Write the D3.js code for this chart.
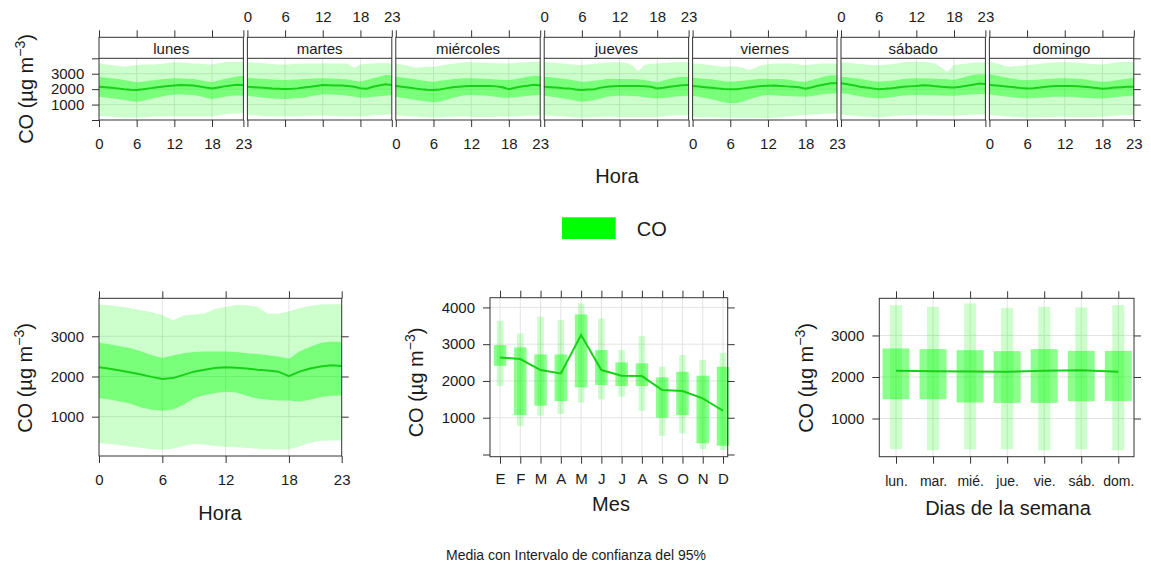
<!DOCTYPE html>
<html>
<head>
<meta charset="utf-8">
<script src="https://cdn.jsdelivr.net/npm/d3@7/dist/d3.min.js"></script>
<style>
body { margin: 0; background: #fff; }
svg { display: block; }
text { font-family: "Liberation Sans", Arial, Helvetica, sans-serif; fill: #1a1a1a; }
</style>
</head>
<body>
<svg id="chart" width="1151" height="564"></svg>
<script>
// ---- datos ----
var horas = [0,1,2,3,4,5,6,7,8,9,10,11,12,13,14,15,16,17,18,19,20,21,22,23]
var horasTicks = [0, 6, 12, 18, 23]
var dias = ["lunes", "martes", "miércoles", "jueves", "viernes", "sábado", "domingo"]
var diasCortos = ["lun.", "mar.", "mié.", "jue.", "vie.", "sáb.", "dom."]
var meses = ["E", "F", "M", "A", "M", "J", "J", "A", "S", "O", "N", "D"]

// hora x dia de la semana (panel superior)
var mediaDiaHora = [
  [2160,2130,2090,2050,2000,1960,1940,1990,2050,2110,2160,2200,2240,2270,2260,2230,2170,2100,2040,2110,2180,2240,2280,2270],
  [2160,2130,2100,2080,2050,2030,2010,2020,2050,2110,2150,2210,2270,2260,2240,2230,2200,2150,2060,2030,2150,2240,2310,2270],
  [2200,2150,2100,2050,2000,1960,1940,1980,2050,2120,2160,2190,2200,2200,2200,2200,2180,2120,2000,2090,2170,2220,2290,2240],
  [2160,2130,2100,2060,2050,1980,1940,1970,2000,2100,2160,2190,2200,2200,2200,2200,2190,2160,2050,2090,2160,2200,2250,2270],
  [2200,2170,2130,2090,2050,2010,1990,2000,2050,2110,2160,2200,2220,2230,2210,2180,2160,2120,2030,2120,2220,2300,2380,2380],
  [2380,2320,2250,2160,2100,2050,1990,2020,2060,2110,2150,2180,2200,2260,2230,2190,2150,2130,2110,2160,2220,2290,2360,2340],
  [2270,2240,2200,2160,2120,2080,2050,2060,2100,2160,2190,2200,2200,2200,2190,2160,2130,2080,2030,2060,2100,2130,2150,2160]
]
var icSupDiaHora = [
  [2810,2760,2710,2660,2590,2510,2440,2480,2540,2590,2640,2680,2700,2690,2680,2660,2590,2510,2440,2560,2660,2740,2820,2870],
  [2740,2710,2680,2650,2620,2600,2590,2610,2630,2660,2680,2690,2700,2690,2680,2660,2620,2540,2490,2590,2700,2800,2920,2880],
  [2810,2760,2700,2640,2580,2520,2480,2540,2600,2640,2680,2700,2700,2690,2680,2660,2630,2600,2590,2640,2720,2810,2870,2850],
  [2810,2770,2730,2680,2620,2540,2480,2500,2540,2600,2650,2680,2660,2650,2650,2640,2600,2520,2440,2560,2650,2760,2810,2800],
  [2740,2710,2680,2640,2580,2520,2480,2510,2550,2600,2640,2670,2660,2660,2650,2630,2560,2500,2480,2590,2700,2820,2900,2900],
  [2810,2770,2730,2680,2600,2520,2480,2510,2550,2600,2650,2690,2700,2700,2690,2670,2650,2640,2600,2700,2820,2920,2960,2930],
  [2960,2880,2800,2720,2650,2600,2590,2600,2620,2650,2680,2700,2700,2690,2670,2640,2580,2520,2480,2500,2560,2620,2680,2740]
]
var icInfDiaHora = [
  [1510,1460,1410,1360,1290,1230,1190,1250,1350,1450,1530,1600,1660,1650,1640,1620,1550,1450,1360,1430,1510,1580,1590,1580],
  [1580,1530,1480,1430,1400,1380,1360,1380,1420,1450,1540,1610,1660,1650,1640,1620,1570,1500,1450,1460,1500,1540,1580,1620],
  [1510,1450,1380,1320,1250,1200,1150,1200,1300,1420,1530,1600,1620,1610,1590,1560,1500,1450,1450,1480,1520,1570,1600,1620],
  [1580,1520,1460,1400,1330,1250,1190,1230,1300,1400,1500,1560,1580,1570,1560,1540,1480,1430,1400,1430,1480,1530,1560,1580],
  [1580,1510,1430,1340,1250,1150,1080,1100,1200,1340,1480,1580,1620,1600,1580,1560,1540,1520,1510,1560,1620,1680,1720,1730],
  [1730,1680,1620,1540,1470,1420,1400,1420,1470,1540,1590,1610,1620,1620,1610,1600,1590,1580,1580,1600,1630,1660,1680,1700],
  [1660,1610,1560,1510,1460,1420,1400,1420,1450,1480,1500,1510,1510,1500,1480,1450,1420,1400,1400,1420,1480,1520,1560,1580]
]
var extSupDiaHora = [
  [3670,3610,3560,3500,3460,3510,3560,3590,3600,3600,3640,3700,3740,3720,3690,3670,3650,3620,3600,3680,3740,3760,3770,3780],
  [3740,3720,3690,3660,3630,3600,3600,3620,3640,3660,3670,3670,3670,3670,3670,3670,3670,3390,3600,3640,3670,3690,3680,3670],
  [3670,3600,3500,3400,3420,3450,3460,3520,3580,3640,3700,3740,3740,3720,3700,3690,3680,3670,3670,3690,3720,3740,3760,3740],
  [3740,3720,3700,3670,3620,3590,3560,3600,3640,3680,3710,3740,3740,3700,3560,3170,3560,3640,3670,3700,3720,3740,3740,3740],
  [3670,3640,3600,3560,3500,3460,3480,3470,3380,3240,3380,3560,3620,3660,3670,3670,3640,3600,3560,3600,3640,3660,3670,3670],
  [3740,3710,3670,3630,3590,3570,3560,3580,3620,3680,3740,3780,3780,3760,3720,3670,3390,3130,3560,3620,3670,3710,3730,3740],
  [3780,3700,3570,3460,3480,3520,3560,3600,3640,3680,3720,3740,3740,3720,3700,3680,3640,3620,3600,3650,3720,3760,3760,3760]
]
var extInfDiaHora = [
  [260,240,210,190,170,160,150,170,200,220,230,220,220,220,220,220,220,220,220,290,370,400,420,430],
  [320,300,270,250,240,230,220,230,250,260,270,280,290,280,260,240,230,220,220,250,290,320,340,370],
  [290,270,250,220,200,180,150,170,200,210,220,220,210,200,190,200,210,220,210,230,250,270,280,290],
  [290,270,250,220,200,170,150,160,180,200,210,210,200,200,200,200,200,200,200,230,270,300,310,320],
  [220,200,180,170,160,150,150,150,150,140,130,130,130,150,180,220,260,300,320,340,370,400,420,430],
  [320,300,270,240,210,190,170,200,240,270,300,320,320,310,300,290,290,290,280,300,320,340,360,370],
  [320,290,260,230,200,180,150,160,180,190,200,210,210,200,200,200,200,200,210,240,280,310,320,330]
]

// por hora (abajo izquierda)
var horaMedia  = [2230,2190,2150,2100,2050,1990,1940,1960,2040,2120,2170,2210,2230,2220,2200,2170,2150,2120,2010,2120,2200,2250,2280,2260]
var horaIcSup  = [2840,2800,2750,2700,2620,2530,2460,2520,2580,2610,2620,2620,2620,2610,2580,2560,2530,2500,2440,2620,2740,2830,2870,2860]
var horaIcInf  = [1460,1430,1380,1320,1230,1170,1150,1180,1300,1460,1540,1590,1620,1600,1520,1450,1420,1400,1400,1380,1420,1490,1520,1530]
var horaExtSup = [3790,3770,3740,3700,3650,3600,3530,3400,3520,3540,3570,3680,3730,3780,3770,3740,3560,3560,3620,3700,3760,3790,3800,3800]
var horaExtInf = [340,320,290,260,220,190,175,200,270,320,300,270,250,240,220,200,190,185,190,260,350,400,410,410]

// por mes (abajo centro)
var mesMedia  = [2640,2595,2296,2205,3247,2296,2142,2133,1753,1726,1527,1190]
var mesIcSup  = [2975,2913,2722,2722,3809,2840,2505,2478,2097,2250,2142,2386]
var mesIcInf  = [2414,1073,1327,1453,1825,1889,1861,1861,1000,1073,304,239]
var mesExtSup = [3636,3293,3745,3655,4108,3700,2840,3220,2386,2704,2568,2766]
var mesExtInf = [1861,774,1055,1101,1409,1499,1571,1182,511,576,149,122]

// por dia de la semana (abajo derecha)
var diaMedia  = [2150,2140,2135,2125,2150,2160,2123]
var diaIcSup  = [2687,2670,2646,2622,2670,2629,2629]
var diaIcInf  = [1465,1465,1385,1377,1377,1417,1424]
var diaExtSup = [3730,3690,3771,3665,3690,3675,3730]
var diaExtInf = [260,236,260,260,236,260,236]

// ---- estilo ----
var verde = "#00ff00", linea = "#17d017", borde = "#333333", rejilla = "#e3e3e3"
var entero = d3.format("d")
var svg = d3.select("#chart")

function estiloEje(g, size) {
    g.attr("font-family", "'Liberation Sans', Arial, sans-serif").attr("font-size", size || 15)
    g.select(".domain").remove()
    g.selectAll(".tick line").attr("stroke", borde)
    g.selectAll(".tick text").attr("fill", "#1a1a1a")
}

function tituloY(x, y) {
    var t = svg.append("text")
        .attr("transform", "translate(" + x + "," + y + ") rotate(-90)")
        .attr("text-anchor", "middle")
        .attr("font-size", 20)
    t.append("tspan").text("CO (µg m")
    t.append("tspan").attr("dy", -8).attr("font-size", 14).text("−3")
    t.append("tspan").attr("dy", 8).text(")")
}

function bandas(g, x, y, lo2, hi2, lo1, hi1, media) {
    var area = d3.area()
        .x(function(d) { return x(d[0]) })
        .y0(function(d) { return y(d[1]) })
        .y1(function(d) { return y(d[2]) })
    g.append("path").datum(d3.zip(horas, lo2, hi2)).attr("d", area)
        .attr("fill", verde).attr("fill-opacity", 0.2)
    g.append("path").datum(d3.zip(horas, lo1, hi1)).attr("d", area)
        .attr("fill", verde).attr("fill-opacity", 0.4)
    g.append("path").datum(d3.zip(horas, media))
        .attr("d", d3.line().x(function(d) { return x(d[0]) }).y(function(d) { return y(d[1]) }))
        .attr("fill", "none").attr("stroke", linea).attr("stroke-width", 2)
}

function rejillaH(g, y, vals, x0, x1) {
    g.selectAll(null).data(vals).enter().append("line")
        .attr("x1", x0).attr("x2", x1)
        .attr("y1", function(d) { return y(d) }).attr("y2", function(d) { return y(d) })
        .attr("stroke", rejilla)
}
function rejillaV(g, x, vals, y0, y1) {
    g.selectAll(null).data(vals).enter().append("line")
        .attr("y1", y0).attr("y2", y1)
        .attr("x1", function(d) { return x(d) }).attr("x2", function(d) { return x(d) })
        .attr("stroke", rejilla)
}

// ---- panel superior: hora por dia ----
var stripTop = 37.3, stripBot = 58.3, panelBot = 120
var left0 = 99, pw = 144.4, gap = 4
var yT = d3.scaleLinear().domain([0, 4000]).range([panelBot, stripBot])

dias.forEach(function(dia, i) {
    var x0 = left0 + i * (pw + gap)
    var x = d3.scaleLinear().domain([0, 23]).range([x0, x0 + pw])
    var g = svg.append("g")

    rejillaH(g, yT, [1000, 2000, 3000], x0, x0 + pw)
    rejillaV(g, x, [6, 12, 18], stripBot, panelBot)
    bandas(g, x, yT, extInfDiaHora[i], extSupDiaHora[i], icInfDiaHora[i], icSupDiaHora[i], mediaDiaHora[i])

    g.append("rect").attr("x", x0).attr("y", stripTop).attr("width", pw).attr("height", panelBot - stripTop)
        .attr("fill", "none").attr("stroke", borde)
    g.append("line").attr("x1", x0).attr("x2", x0 + pw).attr("y1", stripBot).attr("y2", stripBot).attr("stroke", borde)
    g.append("text").attr("x", x0 + pw / 2).attr("y", 54).attr("text-anchor", "middle")
        .attr("font-size", 15).text(dia)

    var conTop = (i % 2 == 1)
    g.append("g").attr("transform", "translate(0," + stripTop + ")")
        .call(d3.axisTop(x).tickValues(horasTicks).tickSize(7).tickPadding(8.6)
            .tickFormat(conTop ? entero : ""))
        .call(estiloEje)
    g.append("g").attr("transform", "translate(0," + panelBot + ")")
        .call(d3.axisBottom(x).tickValues(horasTicks).tickSize(7).tickPadding(11)
            .tickFormat(conTop ? "" : entero))
        .call(estiloEje)
    if (i == 0) {
        g.append("g").attr("transform", "translate(" + x0 + ",0)")
            .call(d3.axisLeft(yT).tickValues([0, 1000, 2000, 3000, 4000]).tickSize(7).tickPadding(7.7)
                .tickFormat(function(d) { return (d == 0 || d == 4000) ? "" : entero(d) }))
            .call(estiloEje)
    }
    if (i == dias.length - 1) {
        g.append("g").attr("transform", "translate(" + (x0 + pw) + ",0)")
            .call(d3.axisRight(yT).tickValues([0, 1000, 2000, 3000, 4000]).tickSize(7).tickFormat(""))
            .call(estiloEje)
    }
})
tituloY(33, 89)
svg.append("text").attr("x", 617).attr("y", 183).attr("text-anchor", "middle").attr("font-size", 20).text("Hora")

// ---- leyenda ----
svg.append("rect").attr("x", 562).attr("y", 217.3).attr("width", 53.7).attr("height", 21.7).attr("fill", verde)
svg.append("text").attr("x", 636.7).attr("y", 236).attr("font-size", 20).text("CO")

// ---- abajo izquierda: hora ----
;(function() {
    var x = d3.scaleLinear().domain([0, 23]).range([99, 341.7])
    var y = d3.scaleLinear().domain([22, 3945]).range([456, 298.3])
    var g = svg.append("g")
    rejillaH(g, y, [1000, 2000, 3000], 99, 341.7)
    rejillaV(g, x, [6, 12, 18], 298.3, 456)
    bandas(g, x, y, horaExtInf, horaExtSup, horaIcInf, horaIcSup, horaMedia)
    g.append("rect").attr("x", 99).attr("y", 298.3).attr("width", 242.7).attr("height", 157.7)
        .attr("fill", "none").attr("stroke", borde)
    g.append("g").attr("transform", "translate(0,456)")
        .call(d3.axisBottom(x).tickValues(horasTicks).tickSize(7).tickPadding(11).tickFormat(entero)).call(estiloEje)
    g.append("g").attr("transform", "translate(0,298.3)")
        .call(d3.axisTop(x).tickValues(horasTicks).tickSize(7).tickFormat("")).call(estiloEje)
    g.append("g").attr("transform", "translate(99,0)")
        .call(d3.axisLeft(y).tickValues([1000, 2000, 3000]).tickSize(7).tickPadding(8).tickFormat(entero)).call(estiloEje)
    g.append("g").attr("transform", "translate(341.7,0)")
        .call(d3.axisRight(y).tickValues([1000, 2000, 3000]).tickSize(7).tickFormat("")).call(estiloEje)
    tituloY(31.7, 378)
    svg.append("text").attr("x", 220).attr("y", 520).attr("text-anchor", "middle").attr("font-size", 20).text("Hora")
})()

// barras con intervalos (mes y dia)
function barras(g, x, y, n, lo2, hi2, lo1, hi1, media, w2, w1) {
    var idx = d3.range(n)
    g.selectAll(null).data(idx).enter().append("rect")
        .attr("x", function(i) { return x(i) - w2 / 2 }).attr("width", w2)
        .attr("y", function(i) { return y(hi2[i]) })
        .attr("height", function(i) { return y(lo2[i]) - y(hi2[i]) })
        .attr("fill", verde).attr("fill-opacity", 0.2)
    g.selectAll(null).data(idx).enter().append("rect")
        .attr("x", function(i) { return x(i) - w1 / 2 }).attr("width", w1)
        .attr("y", function(i) { return y(hi1[i]) })
        .attr("height", function(i) { return y(lo1[i]) - y(hi1[i]) })
        .attr("fill", verde).attr("fill-opacity", 0.45)
    g.append("path").datum(idx)
        .attr("d", d3.line().x(function(i) { return x(i) }).y(function(i) { return y(media[i]) }))
        .attr("fill", "none").attr("stroke", linea).attr("stroke-width", 2)
}

// ---- abajo centro: mes ----
;(function() {
    var x0 = 490, x1 = 727.7, y0 = 297.7, y1 = 456.7
    var x = d3.scaleLinear().domain([0, 11]).range([500, 723])
    var y = d3.scaleLinear().domain([-60, 4264]).range([y1, y0])
    var g = svg.append("g")
    rejillaH(g, y, [1000, 2000, 3000, 4000], x0, x1)
    rejillaV(g, x, d3.range(meses.length), y0, y1)
    barras(g, x, y, meses.length, mesExtInf, mesExtSup, mesIcInf, mesIcSup, mesMedia, 6.5, 12.5)
    g.append("rect").attr("x", x0).attr("y", y0).attr("width", x1 - x0).attr("height", y1 - y0)
        .attr("fill", "none").attr("stroke", borde)
    var ticks = d3.range(meses.length)
    g.append("g").attr("transform", "translate(0," + y1 + ")")
        .call(d3.axisBottom(x).tickValues(ticks).tickSize(7).tickPadding(10)
            .tickFormat(function(i) { return meses[i] })).call(estiloEje)
    g.append("g").attr("transform", "translate(0," + y0 + ")")
        .call(d3.axisTop(x).tickValues(ticks).tickSize(7).tickFormat("")).call(estiloEje)
    g.append("g").attr("transform", "translate(" + x0 + ",0)")
        .call(d3.axisLeft(y).tickValues([0, 1000, 2000, 3000, 4000]).tickSize(7).tickPadding(8)
            .tickFormat(function(d) { return d == 0 ? "" : entero(d) })).call(estiloEje)
    g.append("g").attr("transform", "translate(" + x1 + ",0)")
        .call(d3.axisRight(y).tickValues([0, 1000, 2000, 3000, 4000]).tickSize(7).tickFormat("")).call(estiloEje)
    tituloY(423.3, 382.5)
    svg.append("text").attr("x", 611).attr("y", 511).attr("text-anchor", "middle").attr("font-size", 20).text("Mes")
})()

// ---- abajo derecha: dia de la semana ----
;(function() {
    var x0 = 879.3, x1 = 1134, y0 = 298.3, y1 = 456.7
    var x = d3.scaleLinear().domain([0, 6]).range([896, 1118.3])
    var y = d3.scaleLinear().domain([80, 3895]).range([y1, y0])
    var g = svg.append("g")
    rejillaH(g, y, [1000, 2000, 3000], x0, x1)
    rejillaV(g, x, d3.range(diasCortos.length), y0, y1)
    barras(g, x, y, diasCortos.length, diaExtInf, diaExtSup, diaIcInf, diaIcSup, diaMedia, 12, 27)
    g.append("rect").attr("x", x0).attr("y", y0).attr("width", x1 - x0).attr("height", y1 - y0)
        .attr("fill", "none").attr("stroke", borde)
    var ticks = d3.range(diasCortos.length)
    g.append("g").attr("transform", "translate(0," + y1 + ")")
        .call(d3.axisBottom(x).tickValues(ticks).tickSize(7).tickPadding(12)
            .tickFormat(function(i) { return diasCortos[i] })).call(function(s) { estiloEje(s, 14) })
    g.append("g").attr("transform", "translate(0," + y0 + ")")
        .call(d3.axisTop(x).tickValues(ticks).tickSize(7).tickFormat("")).call(estiloEje)
    g.append("g").attr("transform", "translate(" + x0 + ",0)")
        .call(d3.axisLeft(y).tickValues([1000, 2000, 3000]).tickSize(7).tickPadding(8).tickFormat(entero)).call(estiloEje)
    g.append("g").attr("transform", "translate(" + x1 + ",0)")
        .call(d3.axisRight(y).tickValues([1000, 2000, 3000]).tickSize(7).tickFormat("")).call(estiloEje)
    tituloY(813, 378)
    svg.append("text").attr("x", 1008).attr("y", 515).attr("text-anchor", "middle").attr("font-size", 20).text("Dias de la semana")
})()

// ---- pie ----
svg.append("text").attr("x", 576).attr("y", 560).attr("text-anchor", "middle").attr("font-size", 14)
    .text("Media con Intervalo de confianza del 95%")
</script>
</body>
</html>
